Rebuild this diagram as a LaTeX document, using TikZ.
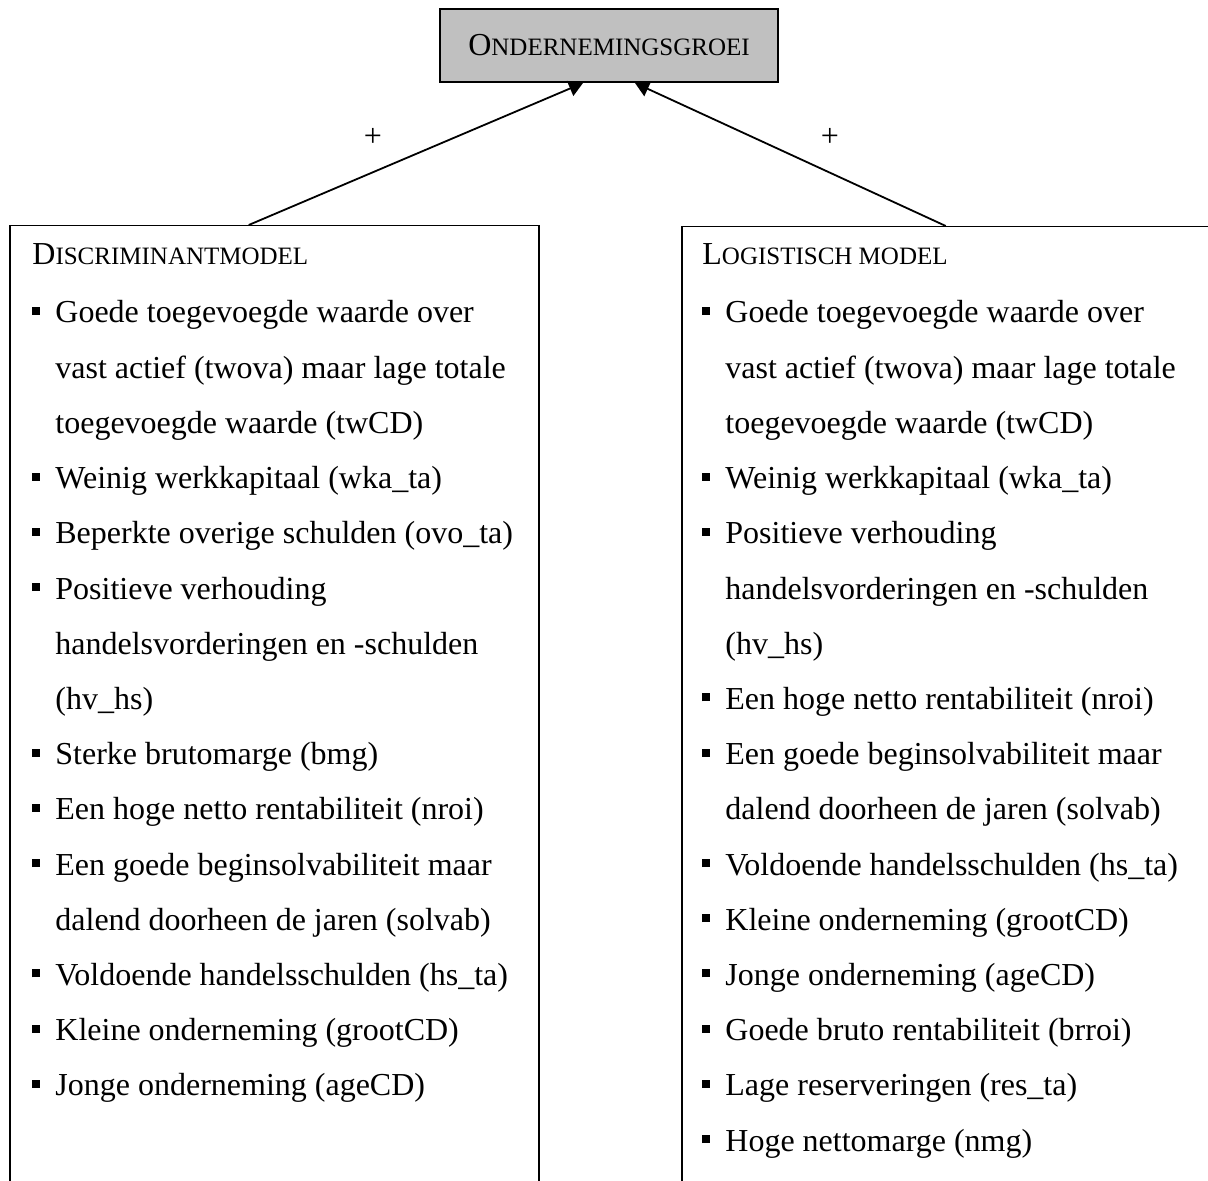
\documentclass[tikz,border=0pt]{standalone}
\usepackage{fontspec}
\setmainfont{Liberation Serif}
\usetikzlibrary{arrows.meta}
\definecolor{groeigray}{RGB}{192,192,192}
\newcommand{\fsc}[2]{#1{\fontsize{12.5pt}{15pt}\selectfont #2}}
\newcommand{\bul}{\rule[4pt]{4pt}{4pt}\hspace{7.5pt}}

\begin{document}
\begin{tikzpicture}[x=0.5pt,y=-0.5pt,
    every node/.style={font=\fontsize{16pt}{19pt}\selectfont, inner sep=0pt},
    line/.style={anchor=base west},
    modelbox/.style={draw, line width=0.75pt, anchor=north west, minimum height=600pt},
    arr/.style={line width=0.9pt, -{Triangle[length=7pt,width=8pt]}}]
	\useasboundingbox (0,0) rectangle (1208,1181);
	\clip (0,0) rectangle (1208,1181);

	%---NODES---
	\node[draw, fill=groeigray, line width=1pt, minimum width=169pt, minimum height=36.5pt] (groei) at (609,45.5) {\fsc{O}{NDERNEMINGSGROEI}};
	\node[modelbox, minimum width=264.5pt] (disc) at (9,225) {};
	\node[modelbox, minimum width=300pt] (logit) at (681,226) {};

	\node (plusL) at (373,137) {+};
	\node (plusR) at (830,137) {+};

	%---EDGES---
	\draw[arr] ([xshift=-12.75pt]disc.north) -- ([xshift=-13pt]groei.south);
	\draw[arr] ([xshift=-18pt]logit.north) -- ([xshift=13pt]groei.south);

	%---LABELS---
	\node[line] (discT) at (32,265) {\fsc{D}{ISCRIMINANTMODEL}};
	\foreach \k/\b/\t in {0/1/Goede toegevoegde waarde over, 1/0/vast actief (twova) maar lage totale,
	    2/0/toegevoegde waarde (twCD), 3/1/Weinig werkkapitaal (wka\_ta),
	    4/1/Beperkte overige schulden (ovo\_ta), 5/1/Positieve verhouding,
	    6/0/handelsvorderingen en -schulden, 7/0/(hv\_hs), 8/1/Sterke brutomarge (bmg),
	    9/1/Een hoge netto rentabiliteit (nroi), 10/1/Een goede beginsolvabiliteit maar,
	    11/0/dalend doorheen de jaren (solvab), 12/1/Voldoende handelsschulden (hs\_ta),
	    13/1/Kleine onderneming (grootCD), 14/1/Jonge onderneming (ageCD)}{
	    \ifnum\b=1 \node[line] (d\k) at (32,{323+55.2*\k}) {\bul\t};
	    \else \node[line] (d\k) at (55,{323+55.2*\k}) {\t}; \fi
	}

	\node[line] (logitT) at (702,265) {\fsc{L}{OGISTISCH MODEL}};
	\foreach \k/\b/\t in {0/1/Goede toegevoegde waarde over, 1/0/vast actief (twova) maar lage totale,
	    2/0/toegevoegde waarde (twCD), 3/1/Weinig werkkapitaal (wka\_ta), 4/1/Positieve verhouding,
	    5/0/handelsvorderingen en -schulden, 6/0/(hv\_hs), 7/1/Een hoge netto rentabiliteit (nroi),
	    8/1/Een goede beginsolvabiliteit maar, 9/0/dalend doorheen de jaren (solvab),
	    10/1/Voldoende handelsschulden (hs\_ta), 11/1/Kleine onderneming (grootCD),
	    12/1/Jonge onderneming (ageCD), 13/1/Goede bruto rentabiliteit (brroi),
	    14/1/Lage reserveringen (res\_ta), 15/1/Hoge nettomarge (nmg)}{
	    \ifnum\b=1 \node[line] (l\k) at (702,{323+55.2*\k}) {\bul\t};
	    \else \node[line] (l\k) at (725,{323+55.2*\k}) {\t}; \fi
	}
\end{tikzpicture}
\end{document}
